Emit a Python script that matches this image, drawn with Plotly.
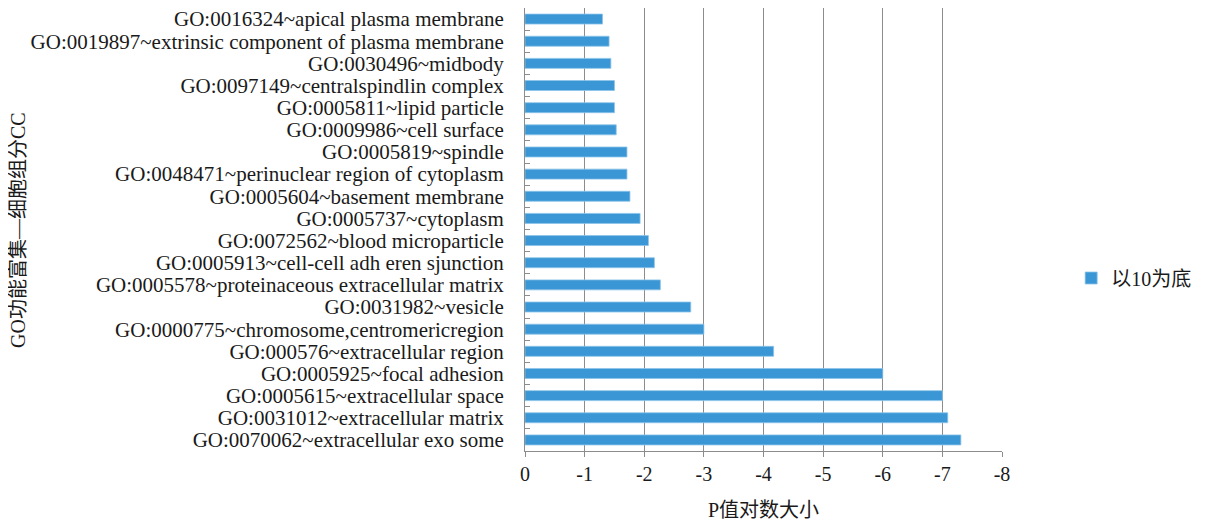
import plotly.graph_objects as go

categories = [
    "GO:0016324~apical plasma membrane",
    "GO:0019897~extrinsic component of plasma membrane",
    "GO:0030496~midbody",
    "GO:0097149~centralspindlin complex",
    "GO:0005811~lipid particle",
    "GO:0009986~cell surface",
    "GO:0005819~spindle",
    "GO:0048471~perinuclear region of cytoplasm",
    "GO:0005604~basement membrane",
    "GO:0005737~cytoplasm",
    "GO:0072562~blood microparticle",
    "GO:0005913~cell-cell adh eren sjunction",
    "GO:0005578~proteinaceous extracellular matrix",
    "GO:0031982~vesicle",
    "GO:0000775~chromosome,centromericregion",
    "GO:000576~extracellular region",
    "GO:0005925~focal adhesion",
    "GO:0005615~extracellular space",
    "GO:0031012~extracellular matrix",
    "GO:0070062~extracellular exo some",
]
values = [-1.30, -1.41, -1.44, -1.50, -1.50, -1.53, -1.71, -1.71, -1.76, -1.93,
          -2.07, -2.17, -2.27, -2.78, -3.00, -4.17, -6.00, -7.00, -7.09, -7.31]
x_ticks = [0, -1, -2, -3, -4, -5, -6, -7, -8]
series_name = "以10为底"

FONT = "'Liberation Serif', 'Noto Sans CJK SC', serif"

# figure is shifted by the page's 8px body margin; size it to fit the window
W, H = 1199, 514
L, R, T, B = 517, 205, 0, 71
plot_w = W - L - R
plot_h = H - T - B

fig = go.Figure()
fig.add_trace(go.Bar(
    x=values, y=categories, orientation="h", name=series_name,
    marker=dict(color="#3A96D4", line=dict(color="#8cc4ea", width=0.8)),
    width=0.45,
))

fig.update_layout(
    width=W, height=H,
    margin=dict(l=L, r=R, t=T, b=B),
    paper_bgcolor="white", plot_bgcolor="white",
    font=dict(family=FONT, size=20, color="#1a1a1a"),
    showlegend=True,
    legend=dict(x=1.145, y=(plot_h - 270) / plot_h, xanchor="left", yanchor="middle",
                font=dict(size=20), bgcolor="rgba(0,0,0,0)"),
    xaxis=dict(
        range=[0, -8], tickvals=x_ticks, ticktext=[str(v) for v in x_ticks],
        showgrid=True, gridcolor="#8c8c8c", gridwidth=1,
        showline=True, linecolor="#8c8c8c", linewidth=1,
        ticks="outside", ticklen=5, tickcolor="#8c8c8c",
        zeroline=False, tickfont=dict(size=20),
        title=dict(text="P值对数大小", font=dict(size=20), standoff=18),
        automargin=False,
    ),
    yaxis=dict(
        autorange="reversed", type="category",
        tickmode="array", tickvals=categories, ticktext=categories,
        showline=True, linecolor="#8c8c8c", linewidth=1,
        ticks="inside", ticklen=5, tickcolor="#8c8c8c", tickson="boundaries",
        showgrid=False, tickfont=dict(size=21), ticklabelstandoff=16,
        automargin=False,
    ),
    annotations=[dict(
        text="GO功能富集—细胞组分CC", textangle=-90,
        x=(10 - L) / plot_w, xref="paper", xanchor="center",
        y=(plot_h - 222) / plot_h, yref="paper", yanchor="middle",
        showarrow=False, font=dict(size=20),
    )],
)

fig.write_html("out.html")
